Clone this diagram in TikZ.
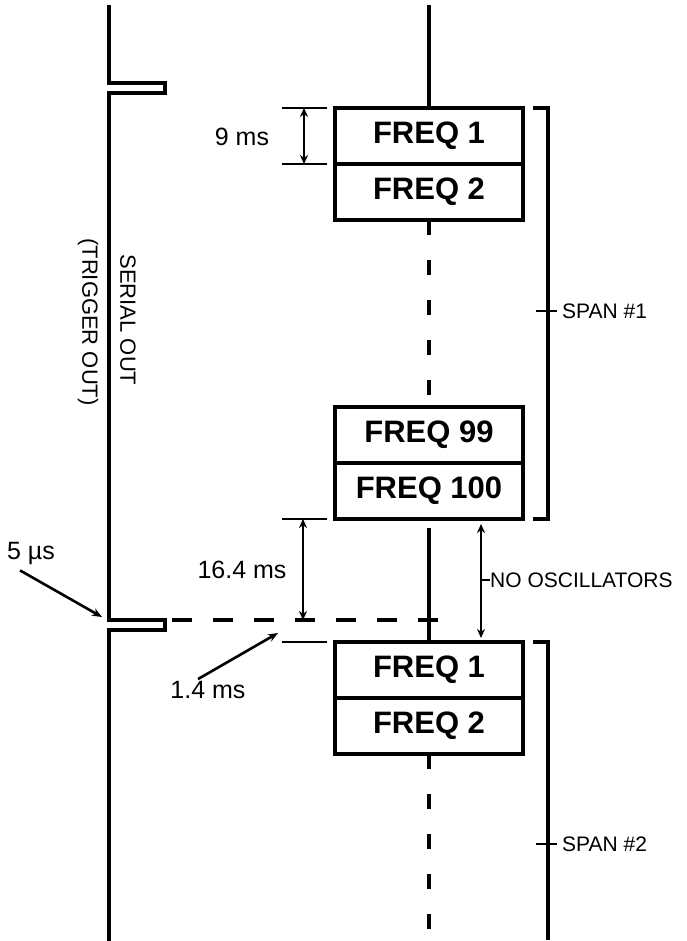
\documentclass[tikz,border=0pt]{standalone}
\usepackage{fontspec}
\setmainfont{Liberation Sans}
\usetikzlibrary{arrows.meta,positioning,calc}

\begin{document}
\begin{tikzpicture}[x=1pt,y=-1pt,
 line/.style={line width=3.1pt},
 sig/.style={line width=3.4pt,line join=miter},
 dim/.style={line width=2.7pt},
 arr/.style={line width=2.5pt,{Stealth[length=9pt,width=8pt]}-{Stealth[length=9pt,width=8pt]}},
 ptr/.style={line width=2.6pt,-{Stealth[length=10pt,width=8pt]}},
 freq/.style={draw,line width=3.1pt,outer sep=0pt,minimum width=188pt,minimum height=56pt,inner sep=0pt,font=\fontsize{31}{31}\selectfont\bfseries},
 lbl/.style={inner sep=0pt,font=\fontsize{21}{25}\selectfont},
 dimlbl/.style={inner sep=0pt,font=\fontsize{25}{28}\selectfont},
 gap/.style={dash pattern=on 15pt off 25pt}
]
\useasboundingbox (0,0) rectangle (687,941);
\node[freq] (f1a) at (429,136) {FREQ 1};
\node[freq,below=0pt of f1a] (f2a) {FREQ 2};
\node[freq] (f99) at (429,435) {FREQ 99};
\node[freq,below=0pt of f99] (f100) {FREQ 100};
\node[freq] (f1b) at (429,670) {FREQ 1};
\node[freq,below=0pt of f1b] (f2b) {FREQ 2};
\coordinate (top) at (429,5);
\coordinate (bot) at (429,941);
\draw[line] (top) -- (f1a.north);
\draw[line,gap] (f2a.south) -- (f99.north);
\draw[line] ([yshift=-9pt]f100.south) -- (f1b.north);
\draw[line,gap] (f2b.south) -- (bot);
\coordinate (p2) at (165,620);
\coordinate (hx) at (448,620);
\draw[sig] (109,5) -- (109,83) -- (165,83) -- (165,93) -- (109,93) -- (109,620)
  -- (p2) -- (165,630) -- (109,630) -- (109,941);
\draw[line,dash pattern=on 20pt off 21pt,dash phase=34pt] (p2) -- (hx);
\node[lbl,rotate=-90,font=\fontsize{22}{25}\selectfont] (so) at (128,320) {SERIAL OUT};
\node[lbl,rotate=-90,font=\fontsize{22}{25}\selectfont] (to) at (88,322) {(TRIGGER OUT)};
\draw[dim] ([xshift=-53pt]f1a.north west) -- ([xshift=-8pt]f1a.north west);
\draw[dim] ([xshift=-53pt]f1a.south west) -- ([xshift=-8pt]f1a.south west);
\draw[arr] ([xshift=-31pt]f1a.north west) -- ([xshift=-31pt]f1a.south west);
\node[dimlbl] (d9) at (242,137) {9 ms};
\coordinate (d16e) at (303,620);
\draw[dim] ([xshift=-53pt]f100.south west) -- ([xshift=-8pt]f100.south west);
\draw[arr] ([xshift=-32pt]f100.south west) -- (d16e);
\node[dimlbl] (d16) at (242,570) {16.4 ms};
\draw[dim] ([xshift=-53pt]f1b.north west) -- ([xshift=-8pt]f1b.north west);
\coordinate (d14e) at (278,633);
\node[dimlbl] (d14) at (208,690) {1.4 ms};
\draw[ptr] ([xshift=-10pt,yshift=2pt]d14.north) -- (d14e);
\coordinate (p2w) at (102,617);
\node[dimlbl] (d5) at (31,553) {5 µs};
\draw[ptr] ([xshift=-11pt,yshift=-6pt]d5.south) -- (p2w);
\draw[arr] ([xshift=-42pt,yshift=-5pt]f100.south east) -- ([xshift=-42pt,yshift=4pt]f1b.north east);
\node[lbl,anchor=west] (nosc) at (490,580) {NO OSCILLATORS};
\draw[dim] (nosc.west) -- ++(-9,0);
\draw[line] ([xshift=10pt]f1a.north east) -- ++(15,0) |- ([xshift=10pt]f100.south east);
\node[lbl,anchor=west] (s1) at (562,311) {SPAN \#1};
\draw[dim] ([xshift=-5pt]s1.west) -- ++(-21,0);
\draw[line] ([xshift=10pt]f1b.north east) -- ++(15,0) -- ++(0,298);
\node[lbl,anchor=west] (s2) at (562,844) {SPAN \#2};
\draw[dim] ([xshift=-5pt]s2.west) -- ++(-21,0);
\end{tikzpicture}
\end{document}
